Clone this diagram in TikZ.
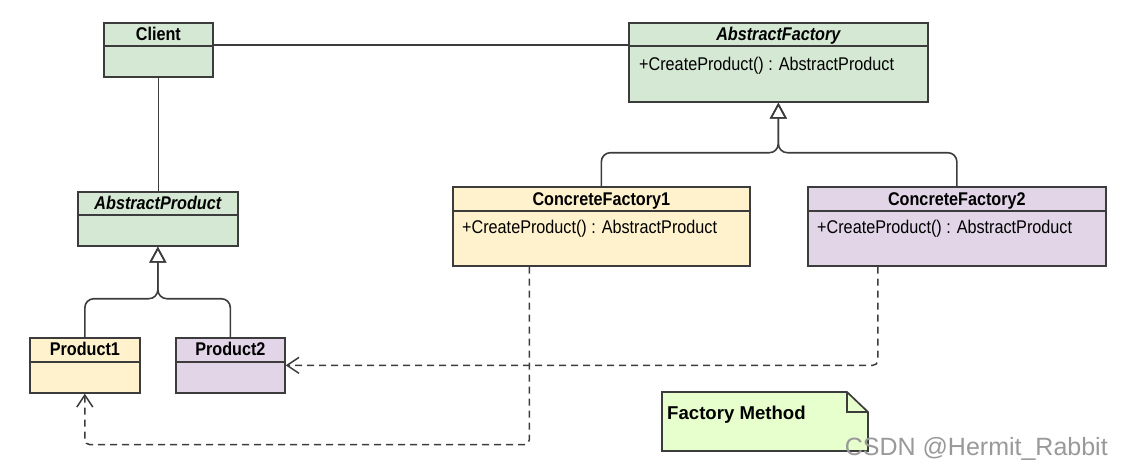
\documentclass[tikz,border=0pt]{standalone}
\usepackage{fontspec}
\setmainfont{Liberation Sans}[FakeStretch=0.88]
\newfontfamily\notefont{Liberation Sans}
\usetikzlibrary{arrows.meta}

\definecolor{umlborder}{HTML}{3C3C3C}
\definecolor{umlgreen}{HTML}{D5E8D4}
\definecolor{umlyellow}{HTML}{FFF2CC}
\definecolor{umlpurple}{HTML}{E1D5E7}
\definecolor{notegreen}{HTML}{E6FFCC}

\begin{document}
\begin{tikzpicture}[x=1pt, y=-1pt,
    cls/.style={draw=umlborder, line width=1.7pt, anchor=north west, inner sep=0pt},
    divider/.style={draw=umlborder, line width=1.7pt},
    clstitle/.style={anchor=base, inner sep=0pt, font=\fontsize{18.4}{22}\selectfont\bfseries},
    member/.style={anchor=base west, inner sep=0pt, font=\fontsize{18.4}{22}\selectfont},
    assoc/.style={draw=umlborder, line width=1.6pt},
    inherit/.style={draw=umlborder, line width=1.6pt, rounded corners=9pt,
      -{Triangle[open, length=16pt, width=17pt, line width=1.6pt]}},
    dep/.style={draw=umlborder, line width=1.5pt, dash pattern=on 7pt off 5pt,
      -{Straight Barb[length=12pt, width=16pt, line width=1.5pt]}},
  ]
    \useasboundingbox (0,0) rectangle (1122,469);

    % Client
    \node[cls, fill=umlgreen, minimum width=109pt, minimum height=54pt] (client) at (103,22) {};
    \draw[divider] ([yshift=-24pt]client.north west) -- ([yshift=-24pt]client.north east);
    \node[clstitle] (clientname) at ([yshift=-18pt]client.north) {Client};

    % AbstractFactory
    \node[cls, fill=umlgreen, minimum width=299pt, minimum height=79pt] (absfactory) at (628,22) {};
    \draw[divider] ([yshift=-24pt]absfactory.north west) -- ([yshift=-24pt]absfactory.north east);
    \node[clstitle] (absfactoryname) at ([yshift=-18pt]absfactory.north) {\itshape AbstractFactory};
    \node[member] (absfactoryop) at ([xshift=11pt, yshift=-48pt]absfactory.north west) {+CreateProduct() : AbstractProduct};

    % AbstractProduct
    \node[cls, fill=umlgreen, minimum width=160pt, minimum height=54pt] (absproduct) at (77,191) {};
    \draw[divider] ([yshift=-24pt]absproduct.north west) -- ([yshift=-24pt]absproduct.north east);
    \node[clstitle] (absproductname) at ([yshift=-18pt]absproduct.north) {\itshape AbstractProduct};

    % Products
    \node[cls, fill=umlyellow, minimum width=110pt, minimum height=55pt] (product1) at (29,337) {};
    \draw[divider] ([yshift=-25pt]product1.north west) -- ([yshift=-25pt]product1.north east);
    \node[clstitle] (product1name) at ([yshift=-18pt]product1.north) {Product1};

    \node[cls, fill=umlpurple, minimum width=109pt, minimum height=55pt] (product2) at (175,337) {};
    \draw[divider] ([yshift=-25pt]product2.north west) -- ([yshift=-25pt]product2.north east);
    \node[clstitle] (product2name) at ([yshift=-18pt]product2.north) {Product2};

    % Concrete factories
    \node[cls, fill=umlyellow, minimum width=297pt, minimum height=79pt] (cf1) at (452,186) {};
    \draw[divider] ([yshift=-25pt]cf1.north west) -- ([yshift=-25pt]cf1.north east);
    \node[clstitle] (cf1name) at ([yshift=-19pt]cf1.north) {ConcreteFactory1};
    \node[member] (cf1op) at ([xshift=10pt, yshift=-47pt]cf1.north west) {+CreateProduct() : AbstractProduct};

    \node[cls, fill=umlpurple, minimum width=298pt, minimum height=79pt] (cf2) at (807,186) {};
    \draw[divider] ([yshift=-25pt]cf2.north west) -- ([yshift=-25pt]cf2.north east);
    \node[clstitle] (cf2name) at ([yshift=-19pt]cf2.north) {ConcreteFactory2};
    \node[member] (cf2op) at ([xshift=10pt, yshift=-47pt]cf2.north west) {+CreateProduct() : AbstractProduct};

    % Associations
    \draw[assoc] ([yshift=-23pt]client.north east) -- ([yshift=-23pt]absfactory.north west);
    \draw[assoc] (client.south) -- (client.south |- absproduct.north);

    % Generalizations
    \draw[inherit] (product1.north) |- ([yshift=-52pt]absproduct.south) -- (absproduct.south);
    \draw[inherit] (product2.north) |- ([yshift=-52pt]absproduct.south) -- (absproduct.south);
    \draw[inherit] (cf1.north) |- ([yshift=-50pt]absfactory.south) -- (absfactory.south);
    \draw[inherit] (cf2.north) |- ([yshift=-50pt]absfactory.south) -- (absfactory.south);

    % Dependencies
    \draw[dep, rounded corners=5pt] ([xshift=-79pt]cf2.south) |- (product2.east);
    \draw[dep, rounded corners=5pt] ([xshift=-72pt]cf1.south) -- ++(0,178) -| (product1.south);

    % Note
    \draw[draw=umlborder, line width=1.7pt, fill=notegreen]
      (662,392) -- (847,392) -- (868,412) -- (868,451) -- (662,451) -- cycle;
    \draw[draw=umlborder, line width=1.7pt] (847,392) -- (847,412) -- (868,412);
    \node[anchor=base west, inner sep=0pt, font=\notefont\fontsize{18.6}{22}\selectfont\bfseries]
      (notetext) at (667,419) {Factory Method};

    % Watermark
    \node[anchor=base east, inner sep=0pt, text=black!40, font=\notefont\fontsize{25}{30}\selectfont]
      (watermark) at (1108,455) {CSDN @Hermit\_Rabbit};

\end{tikzpicture}
\end{document}
